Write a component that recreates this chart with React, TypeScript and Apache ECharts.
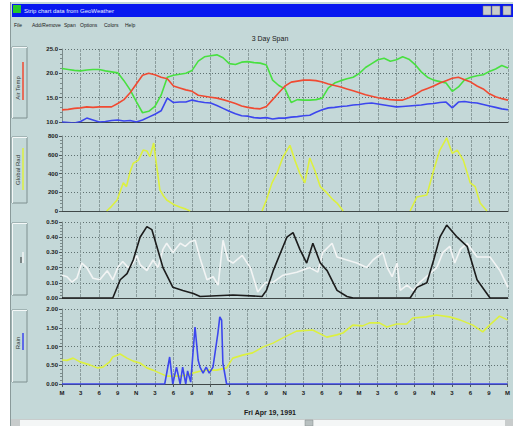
import React, { useEffect, useRef } from "react";
import * as echarts from "echarts";

// ---- data (hours from midnight, 3-day span) ----
const hours = [
  0, 1, 2, 3, 4, 5, 6, 7, 8, 9, 10, 11, 12, 13, 14, 15, 16, 17, 18, 19, 20, 21, 22, 23,
  24, 25, 26, 27, 28, 29, 30, 31, 32, 33, 34, 35, 36, 37, 38, 39, 40, 41, 42, 43, 44, 45, 46, 47,
  48, 49, 50, 51, 52, 53, 54, 55, 56, 57, 58, 59, 60, 61, 62, 63, 64, 65, 66, 67, 68, 69, 70, 71, 72,
];

const tempGreen = [
  21.0, 20.8, 20.6, 20.5, 20.7, 20.8, 20.8, 20.5, 20.3, 20.1, 18.5, 16.6, 14.2, 11.9, 12.2, 13.2, 15.5, 19.2, 19.6, 19.8, 20.0, 20.6, 22.5, 23.4,
  23.6, 23.8, 23.2, 22.0, 21.8, 22.3, 22.4, 22.2, 22.1, 21.7, 18.6, 17.5, 16.8, 14.0, 14.6, 14.5, 14.5, 14.6, 14.9, 17.0, 18.0, 18.5, 18.9, 19.2,
  20.0, 21.2, 22.0, 22.8, 23.1, 22.5, 22.8, 23.4, 22.9, 21.8, 20.3, 19.2, 18.6, 18.3, 18.0, 16.3, 17.2, 18.7, 19.2, 19.5, 19.7, 20.4, 20.9, 21.6, 21.1,
];

const tempRed = [
  12.5, 12.6, 12.8, 12.9, 13.1, 13.0, 13.1, 13.1, 13.1, 13.8, 14.6, 16.0, 17.8, 19.6, 20.0, 19.7, 19.2, 18.9, 17.4, 17.0, 16.6, 16.3, 15.5, 15.3,
  15.1, 14.9, 14.6, 14.2, 13.8, 13.3, 13.0, 12.8, 12.7, 13.2, 14.6, 16.0, 17.4, 18.2, 18.4, 18.6, 18.6, 18.5, 18.2, 17.8, 17.5, 17.2, 16.8, 16.4,
  16.0, 15.6, 15.3, 15.0, 14.8, 14.6, 14.5, 14.5, 15.0, 15.6, 16.4, 16.9, 17.4, 18.0, 18.5, 19.0, 19.2, 18.7, 18.2, 17.4, 16.8, 15.8, 15.2, 14.8, 14.5,
];

const tempBlue = [
  10.0, 9.9, 9.8, 10.1, 10.8, 10.4, 10.0, 10.1, 10.3, 10.4, 10.2, 10.3, 10.0, 10.4, 11.0, 11.6, 12.3, 14.9, 14.0, 14.1, 14.1, 14.5, 14.2, 14.0,
  13.9, 13.4, 12.8, 12.2, 11.7, 11.3, 11.2, 10.9, 10.8, 10.9, 10.6, 10.8, 10.8, 11.0, 11.1, 11.3, 11.4, 12.0, 12.5, 12.9, 13.0, 13.2, 13.3, 13.5,
  13.6, 13.8, 13.9, 13.7, 13.5, 13.3, 13.1, 13.2, 13.3, 13.4, 13.5, 13.7, 13.8, 14.0, 14.1, 12.9, 14.1, 14.2, 14.0, 13.9, 13.6, 13.3, 13.0, 12.7, 12.5,
];

const radTimes = [
  7.2, 8, 8.9, 9.5, 9.9, 10.4, 11, 11.5, 12.3, 13.1, 13.7, 14.2, 14.8, 15.3, 15.8, 16.4, 16.9, 18, 19, 20, 20.7,
  26,
  32.3, 33, 33.9, 34.7, 35.7, 36.8, 37.6, 38.4, 39.2, 40, 40.8, 41.7, 42.8, 43.6, 44.4, 45.4,
  50,
  56.2, 57.3, 58.9, 60, 61, 62.1, 63, 63.8, 64.8, 65.9, 66.7, 67.5, 68.6,
];
const radValues: (number | null)[] = [
  0, 50, 117, 230, 300, 260, 420, 510, 540, 650, 640, 580, 725, 470, 225, 160, 117, 70, 43, 20, 0,
  null,
  0, 117, 300, 400, 580, 700, 540, 400, 300, 565, 435, 260, 190, 130, 85, 0,
  null,
  0, 150, 170, 435, 650, 780, 615, 650, 540, 300, 260, 85, 0,
];

const blackTimes = [
  0, 7.2, 8.2, 9.4, 10.5, 11.5, 12.6, 13.7, 14.5, 15.3, 16.3, 17.9, 19.5, 21.2, 22.3, 27.6, 32.3, 33, 34.1, 36.3,
  37.3, 38.4, 39.5, 40.5, 41.7, 42.8, 44.4, 46, 47, 56.2, 57.3, 58.9, 60, 61, 62.1, 63.8, 65.4, 67, 69.1, 72,
];
const blackValues = [
  0, 0, 0, 0.12, 0.16, 0.25, 0.4, 0.47, 0.45, 0.34, 0.2, 0.07, 0.05, 0.03, 0.01, 0.02, 0.01, 0.05, 0.18, 0.4,
  0.43, 0.32, 0.23, 0.36, 0.23, 0.18, 0.05, 0.01, 0, 0, 0.07, 0.1, 0.25, 0.4, 0.48, 0.4, 0.34, 0.12, 0, 0,
];

const whiteTimes = [
  0, 0.8, 1.6, 2.4, 3.2, 4.0, 5.0, 6.1, 7.3, 8.2, 9.0, 9.8, 10.7, 11.5, 12.1, 12.6, 13.7, 14.7, 15.5, 16.3,
  16.9, 17.9, 19.1, 19.9, 20.7, 21.5, 22.3, 23.4, 24.4, 25.2, 26.0, 26.8, 27.6, 29.1, 30.4, 31.6, 32.8, 34.1, 35.7, 37.9,
  40.0, 41.3, 42.1, 43.6, 44.4, 46.0, 47.6, 49.2, 50.2, 51.8, 52.5, 53.3, 54.1, 54.6, 55.7, 56.7, 57.8, 59.4, 60.5, 61.5,
  62.6, 63.4, 64.3, 65.4, 67.0, 69.1, 70.7, 72,
];
const whiteValues = [
  0.15, 0.14, 0.105, 0.13, 0.23, 0.2, 0.13, 0.12, 0.18, 0.12, 0.2, 0.24, 0.2, 0.23, 0.28, 0.22, 0.18, 0.25, 0.2, 0.32,
  0.36, 0.3, 0.36, 0.34, 0.37, 0.38, 0.26, 0.12, 0.14, 0.085, 0.38, 0.25, 0.23, 0.28, 0.2, 0.04, 0.1, 0.105, 0.15, 0.17,
  0.2, 0.17, 0.3, 0.36, 0.27, 0.25, 0.23, 0.2, 0.25, 0.3, 0.2, 0.14, 0.23, 0.05, 0.085, 0.05, 0.105, 0.16, 0.2, 0.3,
  0.34, 0.23, 0.32, 0.36, 0.27, 0.27, 0.18, 0.07,
];

const yellow4Times = [
  0, 0.8, 1.8, 2.9, 4.5, 5.7, 6.6, 7.7, 8.2, 9.4, 10.5, 11.5, 12.6, 13.7, 14.7, 15.8, 16.9, 19.1, 20.2, 21.1,
  22.3, 23.4, 25.0, 26.6, 27.6, 29.2, 30.8, 32.5, 34.1, 35.7, 37.9, 40.5, 42.8, 44.4, 45.4, 47.0, 48.6, 49.7, 51.3, 52.5,
  54.1, 55.7, 56.7, 58.9, 60.5, 62.6, 64.3, 66.4, 68.0, 69.1, 70.7, 72,
];
const yellow4Values = [
  0.64, 0.63, 0.69, 0.59, 0.51, 0.43, 0.45, 0.59, 0.72, 0.8, 0.69, 0.61, 0.56, 0.43, 0.37, 0.29, 0.21, 0.21, 0.24, 0.29,
  0.34, 0.37, 0.37, 0.43, 0.69, 0.77, 0.83, 0.99, 1.09, 1.23, 1.41, 1.44, 1.25, 1.31, 1.36, 1.57, 1.55, 1.63, 1.63, 1.52,
  1.6, 1.6, 1.76, 1.79, 1.84, 1.79, 1.71, 1.57, 1.39, 1.57, 1.81, 1.71,
];

const rainTimes = [
  0, 16.6, 17.4, 17.9, 18.5, 19.1, 19.5, 20.0, 20.3, 20.8, 21.5, 22.0, 22.3, 22.8, 23.3, 23.8, 24.4, 25.2, 25.5, 25.8, 26.0, 26.6, 72,
];
const rainValues = [
  0, 0, 0.72, 0, 0.45, 0, 0.45, 0, 0.35, 0.05, 1.52, 0.64, 0.45, 0.29, 0.45, 0.29, 0.45, 1.36, 1.79, 1.7, 0.56, 0, 0,
];

const menuItems = ["File", "Add/Remove", "Span", "Options", "Colors", "Help"];
const menuX = [14, 32, 64, 80, 104, 125];
const title = "Strip chart data from GeoWeather";
const spanTitle = "3 Day Span";
const dateLabel = "Fri Apr 19, 1991";

const FONT = "Liberation Sans";
const BG = "#c4d8d8";

function hourLabel(v: number) {
  const h = Math.round(v) % 24;
  if (h === 0) return "M";
  if (h === 12) return "N";
  return String(h % 12);
}

function pairs(t: number[], v: (number | null)[]) {
  return t.map((x, i) => [x, v[i] === null ? "-" : v[i]]);
}

export default function App() {
  const ref = useRef<HTMLDivElement>(null);
  useEffect(() => {
    if (!ref.current) return;
    const chart = echarts.init(ref.current, null, { renderer: "svg" });
    const grids = [
      { top: 49, height: 73 },
      { top: 136, height: 75 },
      { top: 222, height: 76 },
      { top: 309, height: 75 },
    ];
    const yDefs = [
      { min: 10, max: 25, interval: 5, fmt: (v: number) => v.toFixed(1) },
      { min: 0, max: 800, interval: 200, fmt: (v: number) => String(v) },
      { min: 0, max: 0.5, interval: 0.1, fmt: (v: number) => v.toFixed(2) },
      { min: 0, max: 2, interval: 0.5, fmt: (v: number) => v.toFixed(2) },
    ];
    const lineSeries = (name: string, gi: number, data: any[], color: string, z = 2) => ({
      name,
      type: "line",
      xAxisIndex: gi,
      yAxisIndex: gi,
      data,
      showSymbol: false,
      symbol: "none",
      z,
      lineStyle: { color, width: 1.6 },
      connectNulls: false,
    });

    const leftBox = (y: number, h: number) => ({
      type: "rect",
      shape: { x: 12, y, width: 15, height: h },
      style: { fill: "none", stroke: "#7f9090", lineWidth: 1 },
    });
    const leftBoxHi = (y: number, h: number) => ({
      type: "polyline",
      shape: { points: [[12.5, y + h], [12.5, y + 0.5], [27, y + 0.5]] },
      style: { stroke: "#f4f8f8", lineWidth: 1, fill: "none" },
    });
    const vtext = (text: string, x: number, y: number) => ({
      type: "text",
      x,
      y,
      rotation: Math.PI / 2,
      style: { text, fill: "#303838", font: `6px "${FONT}"`, align: "center", verticalAlign: "middle" },
    });
    const vline = (x: number, y1: number, y2: number, color: string, w = 1.5) => ({
      type: "line",
      shape: { x1: x, y1, x2: x, y2 },
      style: { stroke: color, lineWidth: w },
    });

    const option: any = {
      animation: false,
      backgroundColor: "#ffffff",
      grid: grids.map((g) => ({ left: 62, right: 5, top: g.top, height: g.height })),
      xAxis: grids.map((_, i) => ({
        type: "value",
        gridIndex: i,
        min: 0,
        max: 72,
        interval: 3,
        axisLine: { show: true, onZero: false, lineStyle: { color: "#404848", width: 1.2 } },
        axisTick: { show: i === 3, length: 3, lineStyle: { color: "#505858" } },
        axisLabel: {
          show: i === 3,
          formatter: hourLabel,
          color: "#202020",
          fontSize: 6,
          fontFamily: FONT,
          fontWeight: "bold",
          margin: 6,
        },
        splitLine: { show: true, lineStyle: { color: "#8a9c9c", width: 1, type: [3, 1] } },
      })),
      yAxis: yDefs.map((d, i) => ({
        type: "value",
        gridIndex: i,
        min: d.min,
        max: d.max,
        interval: d.interval,
        axisLine: { show: true, lineStyle: { color: "#7a8a8a" } },
        axisTick: { show: true, length: 3, lineStyle: { color: "#505858" } },
        minorTick: { show: true, splitNumber: 5, length: 2, lineStyle: { color: "#7a8a8a" } },
        axisLabel: {
          formatter: d.fmt,
          color: "#202020",
          fontSize: 6,
          fontFamily: FONT,
          fontWeight: "bold",
          margin: 4,
        },
        splitLine: { show: true, lineStyle: { color: "#5f7070", width: 1, type: [1, 2] } },
      })),
      series: [
        lineSeries("tempGreen", 0, hours.map((h, i) => [h, tempGreen[i]]), "#48e040"),
        lineSeries("tempRed", 0, hours.map((h, i) => [h, tempRed[i]]), "#f04a32"),
        lineSeries("tempBlue", 0, hours.map((h, i) => [h, tempBlue[i]]), "#3c46ee"),
        lineSeries("globalRad", 1, pairs(radTimes, radValues), "#dcf040"),
        lineSeries("white", 2, pairs(whiteTimes, whiteValues), "#f2f4f4"),
        lineSeries("black", 2, pairs(blackTimes, blackValues), "#1c1c1c", 3),
        lineSeries("yellow4", 3, pairs(yellow4Times, yellow4Values), "#dcf040"),
        lineSeries("rain", 3, pairs(rainTimes, rainValues), "#3c46ee", 3),
      ],
      graphic: [
        {
          type: "group",
          silent: true,
          z: -10,
          children: [
            { type: "rect", z: -10, shape: { x: 10, y: 2, width: 503, height: 424 }, style: { fill: BG } },
          ],
        },
        {
          type: "group",
          silent: true,
          children: [
            vline(10.5, 2, 426, "#8a9a9a", 1),
            { type: "rect", shape: { x: 12, y: 4, width: 501, height: 13 }, style: { fill: "#0818f0" } },
            { type: "rect", shape: { x: 13, y: 5, width: 8, height: 8 }, style: { fill: "#28c828" } },
            {
              type: "text",
              x: 24,
              y: 10.5,
              style: { text: title, fill: "#e8ecff", font: `6px "${FONT}"`, verticalAlign: "middle" },
            },
            { type: "rect", shape: { x: 483, y: 6, width: 8, height: 9 }, style: { fill: "#c8cccc", stroke: "#707070", lineWidth: 0.5 } },
            { type: "rect", shape: { x: 492, y: 6, width: 8, height: 9 }, style: { fill: "#c8cccc", stroke: "#707070", lineWidth: 0.5 } },
            { type: "rect", shape: { x: 503, y: 6, width: 8, height: 9 }, style: { fill: "#c8cccc", stroke: "#707070", lineWidth: 0.5 } },
            ...menuItems.map((m, i) => ({
              type: "text",
              x: menuX[i],
              y: 25,
              style: { text: m, fill: "#202020", font: `5px "${FONT}"`, verticalAlign: "middle" },
            })),
            {
              type: "text",
              x: 270,
              y: 38,
              style: { text: spanTitle, fill: "#202020", font: `7px "${FONT}"`, align: "center", verticalAlign: "middle" },
            },
            {
              type: "text",
              x: 270,
              y: 412,
              style: { text: dateLabel, fill: "#202020", font: `bold 7px "${FONT}"`, align: "center", verticalAlign: "middle" },
            },
            // left label boxes
            leftBox(47, 71),
            leftBoxHi(47, 71),
            vtext("Air Temp", 18, 88),
            vline(23, 62, 100, "#f04a32"),
            leftBox(137, 66),
            leftBoxHi(137, 66),
            vtext("Global Rad", 18, 170),
            vline(23, 148, 190, "#dcf040"),
            leftBox(223, 72),
            leftBoxHi(223, 72),
            vline(23, 252, 263, "#f2f4f4"),
            vline(21, 257, 263, "#303030", 1),
            leftBox(310, 72),
            leftBoxHi(310, 72),
            vtext("Rain", 18, 343),
            vline(23, 333, 350, "#3c46ee"),
            // scrollbar
            { type: "rect", shape: { x: 11, y: 419, width: 502, height: 7 }, style: { fill: "#c8cccc" } },
            { type: "rect", shape: { x: 20, y: 420, width: 285, height: 6 }, style: { fill: "#f4f6f6" } },
            { type: "rect", shape: { x: 313, y: 420, width: 192, height: 6 }, style: { fill: "#f4f6f6" } },
            { type: "rect", shape: { x: 305, y: 420, width: 8, height: 6 }, style: { fill: "#b8c0c0", stroke: "#808888", lineWidth: 0.5 } },
          ],
        },
      ],
    };
    chart.setOption(option);
    return () => chart.dispose();
  }, []);
  return (
    <div
      ref={ref}
      style={{ position: "fixed", left: 0, top: 0, width: 513, height: 426 }}
    />
  );
}
